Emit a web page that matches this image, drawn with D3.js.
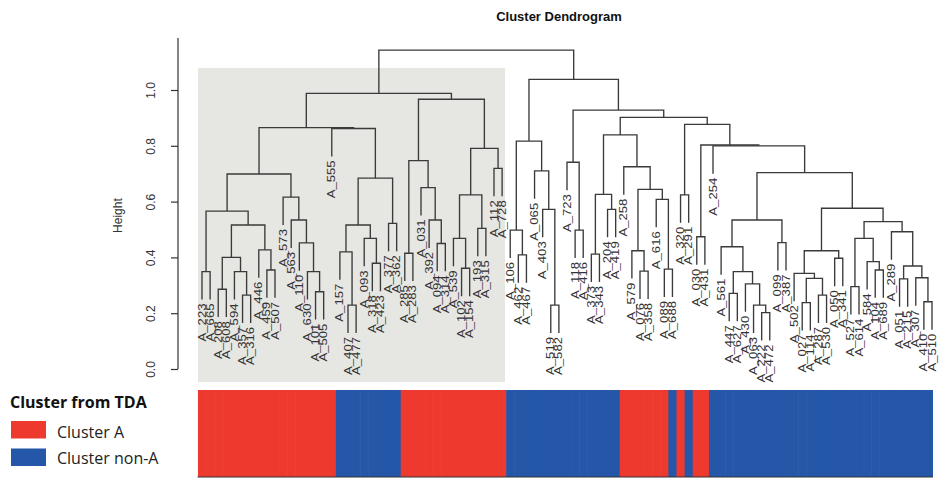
<!DOCTYPE html>
<html>
<head>
<meta charset="utf-8">
<script src="https://cdn.jsdelivr.net/npm/d3@7"></script>
<style>
  html, body { margin: 0; padding: 0; background: #fff; }
  svg { display: block; }
</style>
</head>
<body>
<svg id="chart" width="943" height="486"></svg>
<script>
// Hierarchical clustering: each merge is [height, left, right]; leaves are sample ids.
const clusterLG = [0.699,
  [0.566,
    [0.349, "A_223", "A_665"],
    [0.516,
      [0.400,
        [0.286, "A_208", "A_608"],
        [0.349, "A_594", [0.265, "A_357", "A_316"]]],
      [0.427, "A_446", [0.355, "A_459", "A_507"]]]],
  [0.616, "A_573",
    [0.534, "A_563",
      [0.452, "A_110",
        [0.349, "A_630", [0.277, "A_101", "A_505"]]]]]];

const clusterQ = [0.862, "A_555",
  [0.684,
    [0.516,
      [0.420, "A_157", [0.229, "A_407", "A_477"]],
      [0.468, "A_093", [0.379, "A_318", "A_423"]]],
    [0.522, "A_377", "A_362"]]];

const clusterG = [0.967,
  [0.747,
    [0.415, "A_285", "A_283"],
    [0.650, "A_031", [0.534, "A_392", [0.450, "A_094", "A_314"]]]],
  [0.791,
    [0.624,
      [0.468, "A_539", [0.361, "A_102", "A_154"]],
      [0.504, "A_193", "A_315"]],
    [0.719, "A_112", "A_728"]]];

const clusterK = [0.817,
  [0.498, "A_106", [0.409, "A_462", "A_467"]],
  [0.710, "A_065", [0.572, "A_403", [0.229, "A_519", "A_582"]]]];

const clusterN = [0.839,
  [0.626,
    [0.412, "A_373", "A_343"],
    [0.572, "A_204", "A_419"]],
  [0.725, "A_258",
    [0.644,
      [0.424, "A_579", [0.351, "A_076", "A_358"]],
      [0.608, "A_616", [0.358, "A_089", "A_688"]]]]];

const clusterT1 = [0.534,
  [0.438, "A_561",
    [0.349,
      [0.271, "A_447", "A_627"],
      [0.305, "A_430", [0.229, "A_063", [0.202, "A_222", "A_472"]]]]],
  [0.453, "A_099", "A_387"]];

const clusterT2 = [0.576,
  [0.424,
    [0.343, "A_502", [0.325, [0.238, "A_027", "A_114"], [0.265, "A_287", "A_530"]]],
    [0.397, "A_050", "A_341"]],
  [0.528,
    [0.468, [0.295, "A_527", "A_614"], [0.385, "A_584", [0.355, "A_104", "A_689"]]],
    [0.492, "A_289", [0.369, [0.323, "A_051", "A_215"], [0.327, "A_307", [0.241, "A_410", "A_510"]]]]]];

const clusterO = [0.877,
  [0.624, "A_320", "A_291"],
  [0.803,
    [0.474, "A_030", "A_431"],
    [0.800, "A_254", [0.704, clusterT1, clusterT2]]]];

const leftBranch = [0.988, [0.865, clusterLG, clusterQ], clusterG];
const rightBranch = [1.038, clusterK,
  [0.928,
    [0.741, "A_723", [0.498, "A_118", "A_416"]],
    [0.902, clusterN, clusterO]]];
const rootHeight = 1.143;

// TDA cluster of each leaf, in dendrogram order (A = Cluster A, N = Cluster non-A)
const tdaCluster = [
  "A","A","A","A","A","A","A","A","A","A","A","A","A","A","A","A","A",
  "N","N","N","N","N","N","N","N",
  "A","A","A","A","A","A","A","A","A","A","A","A","A",
  "N","N","N","N","N","N","N","N","N","N","N","N","N","N",
  "A","A","A","A","A","A",
  "N","A","N","A","A",
  "N","N","N","N","N","N","N","N","N","N","N","N","N","N",
  "N","N","N","N","N","N","N","N","N","N","N","N","N","N"
];

const heightTicks = [0, 0.2, 0.4, 0.6, 0.8, 1.0];
const legendItems = [
  { key: "A", label: "Cluster A" },
  { key: "N", label: "Cluster non-A" }
];
const clusterColor = { A: "#ee3a2e", N: "#2457a8" };
const hang = 0.1;

const svg = d3.select("#chart");

const root = d3.hierarchy([rootHeight, leftBranch, rightBranch],
  d => Array.isArray(d) ? d.slice(1) : null);
const leaves = root.leaves();

const x = d3.scaleLinear().domain([0, leaves.length - 1]).range([202, 932]);
const y = d3.scaleLinear().domain([0, 1]).range([369, 90]);

// leaf positions, then internal nodes at the midpoint of their two children
leaves.forEach((d, i) => { d.px = x(i); });
root.eachAfter(d => {
  if (d.children) {
    d.h = d.data[0];
    d.px = (d.children[0].px + d.children[1].px) / 2;
  }
});
root.eachBefore(d => {
  if (!d.children) d.h = d.parent.data[0] - hang;
});

// highlighted group
svg.append("rect")
  .attr("x", x(-0.5))
  .attr("y", y(1.079))
  .attr("width", x(37.35) - x(-0.5))
  .attr("height", y(-0.047) - y(1.079))
  .attr("fill", "#e6e6e3");

// title
svg.append("text")
  .attr("x", 559).attr("y", 21)
  .attr("text-anchor", "middle")
  .attr("font-family", "Liberation Sans, Arial, sans-serif")
  .attr("font-weight", "bold")
  .attr("font-size", 13)
  .attr("fill", "#111")
  .text("Cluster Dendrogram");

// y axis
const axisG = svg.append("g").attr("transform", "translate(178,0)");
axisG.call(d3.axisLeft(y).tickValues(heightTicks).tickFormat(d3.format(".1f")).tickSize(7));
axisG.select(".domain").remove();
axisG.append("line")
  .attr("x1", 0).attr("x2", 0)
  .attr("y1", y(0)).attr("y2", y(1.186))
  .attr("stroke", "#333").attr("stroke-width", 1.2);
axisG.selectAll(".tick line").attr("stroke", "#333").attr("stroke-width", 1.2);
axisG.selectAll(".tick text")
  .attr("font-family", "Liberation Sans, Arial, sans-serif")
  .attr("font-size", 12)
  .attr("fill", "#333")
  .attr("text-anchor", "middle")
  .attr("x", null).attr("dy", null)
  .attr("transform", "translate(-27,0) rotate(-90)")
  .attr("y", 0)
  .attr("dominant-baseline", "central");

svg.append("text")
  .attr("transform", `translate(118,${y(0.55)}) rotate(-90)`)
  .attr("text-anchor", "middle")
  .attr("dominant-baseline", "central")
  .attr("font-family", "Liberation Sans, Arial, sans-serif")
  .attr("font-size", 12)
  .attr("fill", "#333")
  .text("Height");

// dendrogram links
const merges = root.descendants().filter(d => d.children);
svg.append("g")
  .attr("fill", "none")
  .attr("stroke", "#3a3a3a")
  .attr("stroke-width", 1.35)
  .selectAll("path")
  .data(merges)
  .join("path")
  .attr("d", d => {
    const [a, b] = d.children;
    return `M${a.px},${y(a.h)}V${y(d.h)}H${b.px}V${y(b.h)}`;
  });

// leaf labels
svg.append("g")
  .selectAll("text")
  .data(leaves)
  .join("text")
  .attr("transform", d => `translate(${d.px},${y(d.h) + 4}) rotate(-90) scale(1.25,1)`)
  .attr("text-anchor", "end")
  .attr("dominant-baseline", "central")
  .attr("font-family", "Liberation Sans, Arial, sans-serif")
  .attr("font-size", 10.5)
  .attr("fill", "#333")
  .text(d => d.data);

// TDA cluster bar
const bandW = x(1) - x(0);
const barLeft = x(-0.55), barRight = x(leaves.length - 1) + 1;
svg.append("g")
  .selectAll("rect")
  .data(leaves)
  .join("rect")
  .attr("x", (d, i) => Math.max(barLeft, x(i) - bandW / 2))
  .attr("y", 390)
  .attr("width", (d, i) => Math.min(barRight, x(i) + bandW / 2 + 0.6) - Math.max(barLeft, x(i) - bandW / 2))
  .attr("height", 87)
  .attr("fill", (d, i) => clusterColor[tdaCluster[i]]);
svg.append("line")
  .attr("x1", barLeft).attr("x2", barRight)
  .attr("y1", 477).attr("y2", 477)
  .attr("stroke", "#333").attr("stroke-width", 1);

// legend
const lg = svg.append("g").attr("font-family", "'Open Sans', sans-serif");
lg.append("text")
  .attr("x", 10).attr("y", 408)
  .attr("font-weight", "bold")
  .attr("font-size", 16)
  .attr("fill", "#111")
  .text("Cluster from TDA");
legendItems.forEach((it, i) => {
  lg.append("rect")
    .attr("x", 11).attr("y", 421 + i * 27.5)
    .attr("width", 35).attr("height", 17.5)
    .attr("fill", clusterColor[it.key]);
  lg.append("text")
    .attr("x", 57).attr("y", 438 + i * 26)
    .attr("font-size", 16)
    .attr("fill", "#222")
    .text(it.label);
});
</script>
</body>
</html>
